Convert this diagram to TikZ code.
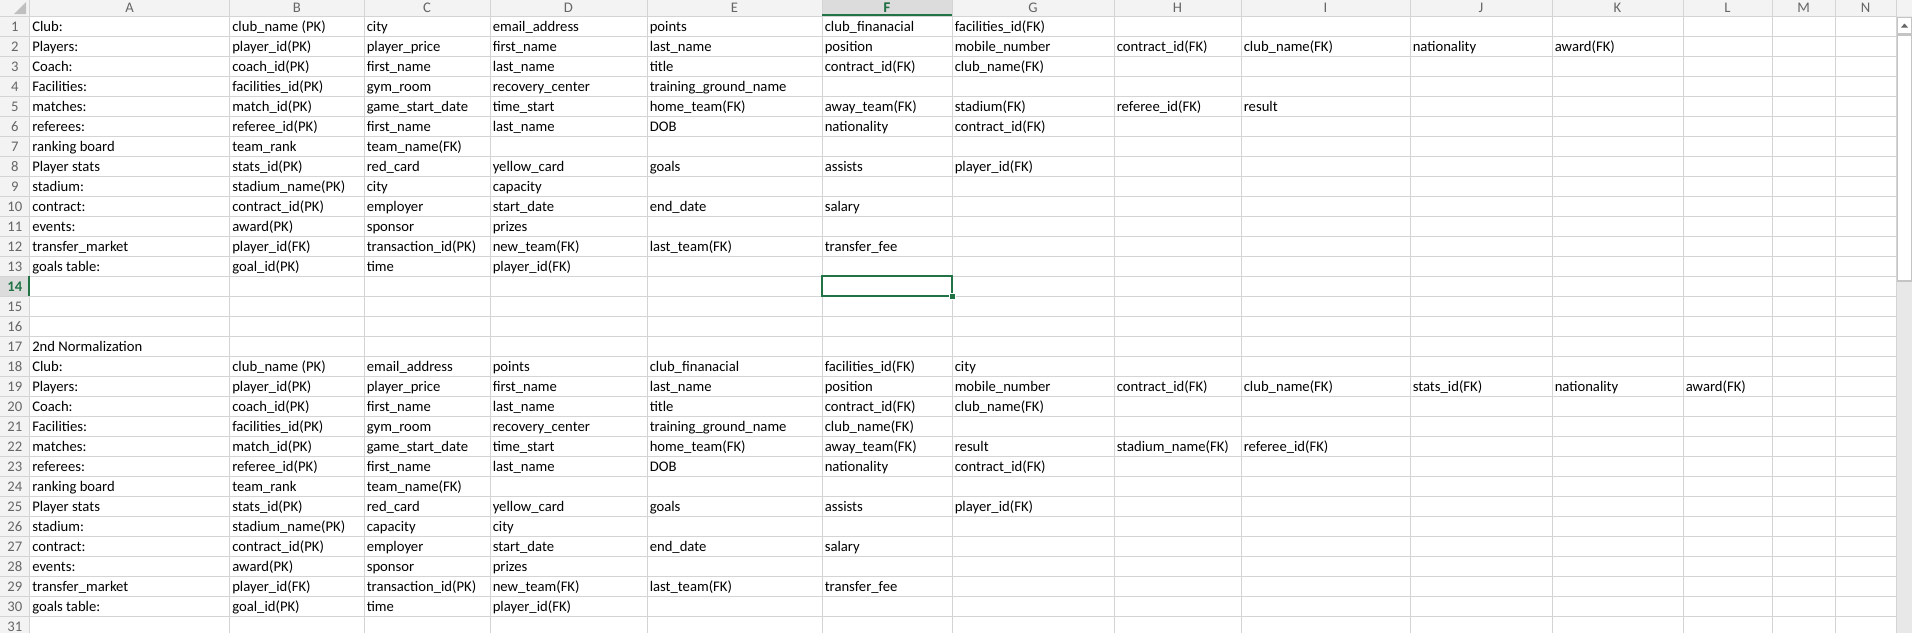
\documentclass[tikz,border=0pt]{standalone}
\usepackage{fontspec}
\setmainfont{Carlito}
\usepackage{xcolor}
\definecolor{gridgray}{HTML}{D4D4D4}
\definecolor{hdrfill}{HTML}{F3F3F3}
\definecolor{hdrsel}{HTML}{DCDCDC}
\definecolor{hdrtext}{HTML}{666666}
\definecolor{xlgreen}{HTML}{217346}
\definecolor{scrolltrack}{HTML}{E8E8E8}
\definecolor{scrollline}{HTML}{C4C4C4}
\tikzstyle{cell} = [anchor=base west, inner sep=0pt, font=\fontsize{11}{13}\selectfont, text=black]
\tikzstyle{hdr} = [anchor=base, inner sep=0pt, font=\fontsize{11}{13}\selectfont, text=hdrtext]
\tikzstyle{gridline} = [draw=gridgray, line width=0.75pt]
\tikzstyle{selline} = [draw=xlgreen, line width=1.5pt]
\def\colL{{29.5,229.5,364,490,647,822,952,1114,1241,1410,1552,1683,1772,1835,1896}}

\begin{document}
\begin{tikzpicture}[x=0.75pt, y=-0.75pt]
	\useasboundingbox (0,0) rectangle (1912,633);
	\fill[white] (0,0) rectangle (1912,633);
	
	% headers
	\fill[hdrfill] (0,0) rectangle (1912,16.3);
	\fill[hdrfill] (0,0) rectangle (29.5,633);
	\fill[hdrsel] (822,0) rectangle (952,16.3);
	\fill[hdrsel] (0,276.3) rectangle (29.5,296.3);
	\fill[gray!50] (26,2) -- (26,14) -- (14,14) -- cycle;
	
	% grid
	\foreach \r in {0,...,31}
		\draw[gridline] (0,16.3+20*\r) -- (1896,16.3+20*\r);
	\foreach \x in {29.5,229.5,364,490,647,822,952,1114,1241,1410,1552,1683,1772,1835,1896}
		\draw[gridline] (\x,0) -- (\x,633);
	\draw[selline] (822,15.3) -- (952,15.3);
	\draw[selline] (28.8,276.3) -- (28.8,296.3);
	
	% column letters
	\foreach \c [count=\i from 0] in {A,...,N}{
		\pgfmathsetmacro\xa{\colL[\i]}
		\pgfmathsetmacro\xb{\colL[\i+1]}
		\node[hdr] (hdr-\c) at ({(\xa+\xb)/2},12.5) {\c};
	}
	\node[hdr, text=xlgreen, font=\fontsize{11}{13}\selectfont\bfseries] at (hdr-F.base) {F};
	
	% row numbers
	\foreach \r in {1,...,31}
		\node[hdr] (row-\r) at (14.75,16.3+20*\r-4.5) {\r};
	\fill[hdrsel] (1,278) rectangle (27.5,295);
	\node[hdr, text=xlgreen, font=\fontsize{11}{13}\selectfont\bfseries] at (row-14.base) {14};
	
	% cells
	\foreach \r/\cells in {
		1/{Club:,club\_name (PK),city,email\_address,points,club\_finanacial,facilities\_id(FK)},
		2/{Players:,player\_id(PK),player\_price,first\_name,last\_name,position,mobile\_number,contract\_id(FK),club\_name(FK),nationality,award(FK)},
		3/{Coach:,coach\_id(PK),first\_name,last\_name,title,contract\_id(FK),club\_name(FK)},
		4/{Facilities:,facilities\_id(PK),gym\_room,recovery\_center,training\_ground\_name},
		5/{matches:,match\_id(PK),game\_start\_date,time\_start,home\_team(FK),away\_team(FK),stadium(FK),referee\_id(FK),result},
		6/{referees:,referee\_id(PK),first\_name,last\_name,DOB,nationality,contract\_id(FK)},
		7/{ranking board,team\_rank,team\_name(FK)},
		8/{Player stats,stats\_id(PK),red\_card,yellow\_card,goals,assists,player\_id(FK)},
		9/{stadium:,stadium\_name(PK),city,capacity},
		10/{contract:,contract\_id(PK),employer,start\_date,end\_date,salary},
		11/{events:,award(PK),sponsor,prizes},
		12/{transfer\_market,player\_id(FK),transaction\_id(PK),new\_team(FK),last\_team(FK),transfer\_fee},
		13/{goals table:,goal\_id(PK),time,player\_id(FK)},
		17/{2nd Normalization},
		18/{Club:,club\_name (PK),email\_address,points,club\_finanacial,facilities\_id(FK),city},
		19/{Players:,player\_id(PK),player\_price,first\_name,last\_name,position,mobile\_number,contract\_id(FK),club\_name(FK),stats\_id(FK),nationality,award(FK)},
		20/{Coach:,coach\_id(PK),first\_name,last\_name,title,contract\_id(FK),club\_name(FK)},
		21/{Facilities:,facilities\_id(PK),gym\_room,recovery\_center,training\_ground\_name,club\_name(FK)},
		22/{matches:,match\_id(PK),game\_start\_date,time\_start,home\_team(FK),away\_team(FK),result,stadium\_name(FK),referee\_id(FK)},
		23/{referees:,referee\_id(PK),first\_name,last\_name,DOB,nationality,contract\_id(FK)},
		24/{ranking board,team\_rank,team\_name(FK)},
		25/{Player stats,stats\_id(PK),red\_card,yellow\_card,goals,assists,player\_id(FK)},
		26/{stadium:,stadium\_name(PK),capacity,city},
		27/{contract:,contract\_id(PK),employer,start\_date,end\_date,salary},
		28/{events:,award(PK),sponsor,prizes},
		29/{transfer\_market,player\_id(FK),transaction\_id(PK),new\_team(FK),last\_team(FK),transfer\_fee},
		30/{goals table:,goal\_id(PK),time,player\_id(FK)}}{
		\foreach \t [count=\i from 0] in \cells {
			\pgfmathsetmacro\xl{\colL[\i]}
			\node[cell] (c-\r-\i) at (\xl+2.5,16.3+20*\r-4.5) {\t};
		}
	}
	
	% selected cell
	\draw[selline] (822,276.3) rectangle (952,296.3);
	\fill[xlgreen, draw=white, line width=0.75pt] (949,293.3) rectangle (955,299.3);
	
	% scrollbar
	\fill[scrolltrack] (1896.5,16.3) rectangle (1912,633);
	\draw[scrollline, fill=white, line width=0.75pt] (1897.5,17.5) rectangle (1911.5,33.5);
	\fill[black!60] (1901,27.5) -- (1908,27.5) -- (1904.5,23.5) -- cycle;
	\draw[scrollline, fill=white, line width=1pt] (1897.5,35) rectangle (1911.5,281);
	
\end{tikzpicture}
\end{document}
